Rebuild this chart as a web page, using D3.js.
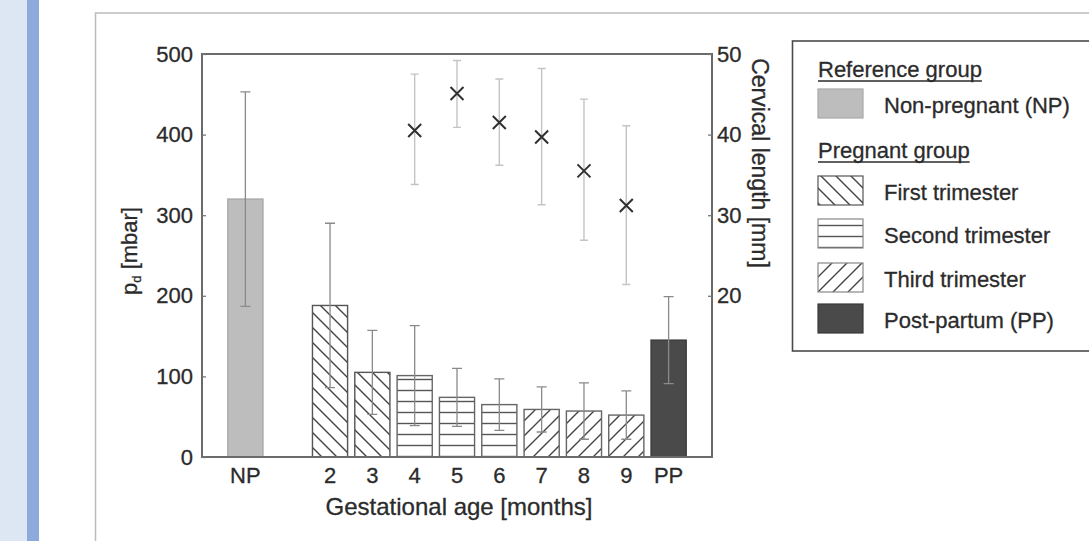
<!DOCTYPE html>
<html>
<head>
<meta charset="utf-8">
<script src="https://cdn.jsdelivr.net/npm/d3@7"></script>
<style>
  html, body { margin: 0; padding: 0; background: #fff; }
  svg { display: block; font-family: 'Liberation Sans', Arial, sans-serif; }
  svg text { stroke: #2b2b2b; stroke-width: 0.3px; }
</style>
</head>
<body>
<svg id="chart" width="1089" height="541"></svg>
<script>
// bar categories (the empty slot keeps the gap between NP and month 2)
const categories = ['NP', '', '2', '3', '4', '5', '6', '7', '8', '9', 'PP'];
const groups = ['ref', null, 't1', 't1', 't2', 't2', 't2', 't3', 't3', 't3', 'pp'];
const pdMean = [320, null, 188, 105, 101, 74, 65, 59, 57, 52, 145];
const pdSd = [133, null, 102, 52, 62, 36, 32, 28, 35, 30, 54];

// cervical length, mm (right axis)
const cervMonths = ['4', '5', '6', '7', '8', '9'];
const cervMean = [40.5, 45.1, 41.5, 39.7, 35.5, 31.2];
const cervLow = [33.8, 40.9, 36.2, 31.3, 26.9, 21.4];
const cervHigh = [47.5, 49.2, 46.9, 48.2, 44.4, 41.1];

const leftTicks = [0, 100, 200, 300, 400, 500];
const rightTicks = [20, 30, 40, 50];

const legendItems = [
    { head: 'Reference group' },
    { key: 'ref', label: 'Non-pregnant (NP)' },
    { head: 'Pregnant group' },
    { key: 't1', label: 'First trimester' },
    { key: 't2', label: 'Second trimester' },
    { key: 't3', label: 'Third trimester' },
    { key: 'pp', label: 'Post-partum (PP)' }
];

const svg = d3.select('#chart');
const textCol = '#2b2b2b';

// page decoration: side strips and outer frame
svg.append('rect').attr('x', 0).attr('y', 0).attr('width', 27).attr('height', 541).attr('fill', '#dde7f4');
svg.append('rect').attr('x', 27).attr('y', 0).attr('width', 12).attr('height', 541).attr('fill', '#8eaadc');
svg.append('path')
    .attr('d', 'M95.5,541 V13 H1089')
    .attr('fill', 'none')
    .attr('stroke', '#bcbcbc')
    .attr('stroke-width', 1.5);

// hatch patterns
const defs = svg.append('defs');
function hatch(id, draw, w, h) {
    const p = defs.append('pattern')
        .attr('id', id)
        .attr('patternUnits', 'userSpaceOnUse')
        .attr('width', w)
        .attr('height', h);
    p.append('rect').attr('width', w).attr('height', h).attr('fill', '#fff');
    draw(p);
}
const hs = 15;
hatch('hatch-t1', p => {
    p.append('path')
        .attr('d', `M0,0 L${hs},${hs} M${-hs / 2},${hs / 2} L${hs / 2},${hs * 1.5} M${hs / 2},${-hs / 2} L${hs * 1.5},${hs / 2}`)
        .attr('stroke', '#444').attr('stroke-width', 1.4);
}, hs, hs);
hatch('hatch-t2', p => {
    p.append('path')
        .attr('d', 'M0,5.5 H20')
        .attr('stroke', '#555').attr('stroke-width', 1.4);
}, 20, 11);
hatch('hatch-t3', p => {
    p.append('path')
        .attr('d', `M0,${hs} L${hs},0 M${-hs / 2},${hs / 2} L${hs / 2},${-hs / 2} M${hs / 2},${hs * 1.5} L${hs * 1.5},${hs / 2}`)
        .attr('stroke', '#444').attr('stroke-width', 1.4);
}, hs, hs);

const fills = { ref: '#bdbdbd', t1: 'url(#hatch-t1)', t2: 'url(#hatch-t2)', t3: 'url(#hatch-t3)', pp: '#4a4a4a' };
const strokes = { ref: '#a8a8a8', t1: '#555', t2: '#666', t3: '#666', pp: '#3a3a3a' };

// plot area
const plot = { left: 202, right: 712, top: 54, bottom: 457 };

const x = d3.scaleBand()
    .domain(categories)
    .range([plot.left, plot.right])
    .paddingInner(0.17)
    .paddingOuter(0.61);

const y = d3.scaleLinear().domain([0, 500]).range([plot.bottom, plot.top]);
const y2 = d3.scaleLinear().domain([0, 50]).range([plot.bottom, plot.top]);

const barData = categories.map((c, i) => ({ cat: c, group: groups[i], mean: pdMean[i], sd: pdSd[i] }))
    .filter(d => d.group);

// bars
svg.append('g').selectAll('rect')
    .data(barData)
    .join('rect')
    .attr('x', d => x(d.cat))
    .attr('y', d => y(d.mean))
    .attr('width', x.bandwidth())
    .attr('height', d => y(0) - y(d.mean))
    .attr('fill', d => fills[d.group])
    .attr('stroke', d => strokes[d.group])
    .attr('stroke-width', 1.4);

// bar error bars
const cap = 5;
const errG = svg.append('g')
    .attr('stroke', '#8a8a8a')
    .attr('stroke-width', 1.3)
    .attr('fill', 'none');
errG.selectAll('path')
    .data(barData)
    .join('path')
    .attr('d', d => {
        const cx = x(d.cat) + x.bandwidth() / 2;
        const yt = y(d.mean + d.sd), yb = y(d.mean - d.sd);
        return `M${cx},${yt} V${yb} M${cx - cap},${yt} H${cx + cap} M${cx - cap},${yb} H${cx + cap}`;
    });

// cervical length error bars and crosses
const cervData = cervMonths.map((m, i) => ({ cat: m, mean: cervMean[i], lo: cervLow[i], hi: cervHigh[i] }));
const cap2 = 4;
svg.append('g')
    .attr('stroke', '#c4c4c4')
    .attr('stroke-width', 1.4)
    .attr('fill', 'none')
    .selectAll('path')
    .data(cervData)
    .join('path')
    .attr('d', d => {
        const cx = x(d.cat) + x.bandwidth() / 2;
        const yt = y2(d.hi), yb = y2(d.lo);
        return `M${cx},${yt} V${yb} M${cx - cap2},${yt} H${cx + cap2} M${cx - cap2},${yb} H${cx + cap2}`;
    });

const cs = 6.5;
svg.append('g')
    .attr('stroke', '#303030')
    .attr('stroke-width', 2)
    .selectAll('path')
    .data(cervData)
    .join('path')
    .attr('d', d => {
        const cx = x(d.cat) + x.bandwidth() / 2, cy = y2(d.mean);
        return `M${cx - cs},${cy - cs} L${cx + cs},${cy + cs} M${cx - cs},${cy + cs} L${cx + cs},${cy - cs}`;
    });

// frame
svg.append('rect')
    .attr('x', plot.left)
    .attr('y', plot.top)
    .attr('width', plot.right - plot.left)
    .attr('height', plot.bottom - plot.top)
    .attr('fill', 'none')
    .attr('stroke', '#6a6a6a')
    .attr('stroke-width', 2);

// axes
const leftAxis = svg.append('g')
    .attr('transform', `translate(${plot.left},0)`)
    .call(d3.axisLeft(y).tickValues(leftTicks).tickSize(-4).tickPadding(9));
const rightAxis = svg.append('g')
    .attr('transform', `translate(${plot.right},0)`)
    .call(d3.axisRight(y2).tickValues(rightTicks).tickSize(-4).tickPadding(5));
const bottomAxis = svg.append('g')
    .attr('transform', `translate(0,${plot.bottom})`)
    .call(d3.axisBottom(x).tickValues(categories.filter(c => c !== '')).tickSize(0).tickPadding(10));

[leftAxis, rightAxis, bottomAxis].forEach(a => {
    a.select('.domain').remove();
    a.selectAll('line').attr('stroke', '#777').attr('stroke-width', 1.3);
    a.selectAll('text')
        .attr('fill', textCol)
        .style('font-size', '22px')
        .style('font-family', "'Liberation Sans', Arial, sans-serif");
});

// axis titles
svg.append('text')
    .attr('x', 459)
    .attr('y', 515)
    .attr('text-anchor', 'middle')
    .attr('fill', textCol)
    .style('font-size', '24px')
    .text('Gestational age [months]');

const yl = svg.append('text')
    .attr('transform', 'translate(137,251) rotate(-90)')
    .attr('text-anchor', 'middle')
    .attr('fill', textCol)
    .style('font-size', '22px');
yl.append('tspan').text('p');
yl.append('tspan').attr('dy', 4).style('font-size', '13px').text('d');
yl.append('tspan').attr('dy', -4).text(' [mbar]');

svg.append('text')
    .attr('transform', 'translate(752,163) rotate(90)')
    .attr('text-anchor', 'middle')
    .attr('fill', textCol)
    .style('font-size', '23px')
    .text('Cervical length [mm]');

// legend
const lg = svg.append('g');
lg.append('rect')
    .attr('x', 792.5)
    .attr('y', 41)
    .attr('width', 320)
    .attr('height', 310)
    .attr('fill', '#fff')
    .attr('stroke', '#4a4a4a')
    .attr('stroke-width', 1.6);

const rowY = [77, 113, 158, 200, 243, 287, 328];
legendItems.forEach((d, i) => {
    const by = rowY[i];
    if (d.head) {
        const t = lg.append('text')
            .attr('x', 818)
            .attr('y', by)
            .attr('fill', textCol)
            .style('font-size', '22px')
            .text(d.head);
        const w = t.node().getComputedTextLength();
        lg.append('line')
            .attr('x1', 818).attr('x2', 818 + w)
            .attr('y1', by + 4).attr('y2', by + 4)
            .attr('stroke', textCol).attr('stroke-width', 1.4);
    } else {
        lg.append('rect')
            .attr('x', 818)
            .attr('y', by - 24)
            .attr('width', 45)
            .attr('height', 29)
            .attr('fill', fills[d.key])
            .attr('stroke', strokes[d.key] === '#666' ? '#888' : strokes[d.key])
            .attr('stroke-width', 1.2);
        lg.append('text')
            .attr('x', 884)
            .attr('y', by)
            .attr('fill', textCol)
            .style('font-size', '22px')
            .text(d.label);
    }
});
</script>
</body>
</html>
